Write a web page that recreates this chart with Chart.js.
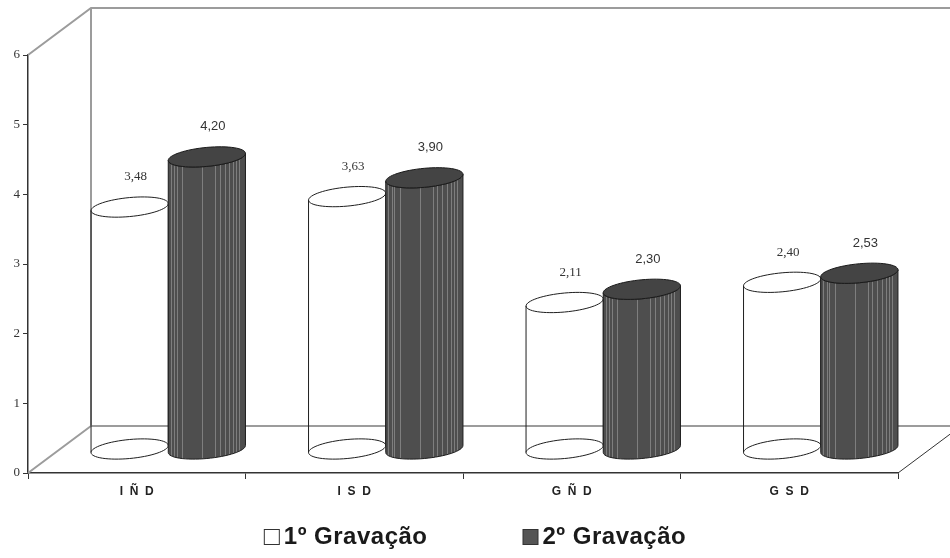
<!DOCTYPE html>
<html>
<head>
<meta charset="utf-8">
<script src="https://cdn.jsdelivr.net/npm/chart.js@4/dist/chart.umd.min.js"></script>
<style>
    html, body { margin: 0; padding: 0; background: #ffffff; }
    canvas { display: block; }
</style>
</head>
<body>
<canvas id="grafico" width="950" height="558"></canvas>
<script>
// Dados do grafico
var categorias = ['I  Ñ  D', 'I  S  D', 'G  Ñ  D', 'G  S  D'];
var gravacao1 = [3.48, 3.63, 2.11, 2.40];
var gravacao2 = [4.20, 3.90, 2.30, 2.53];
var nomesSeries = ['1º Gravação', '2º Gravação'];
var yMin = 0;
var yMax = 6;
var yPasso = 1;

// "profundidade" do efeito 3D
var DX = 63;
var DY = 47;
// posicao das listras claras no cilindro escuro (fração da largura)
var listras = [0.03, 0.08, 0.11, 0.18, 0.44, 0.61, 0.67, 0.73, 0.79, 0.84, 0.88, 0.92];

function ponto(cx, cy, rx, t) {
    var ry = 9.5, sh = 3.5;
    return [cx + rx * Math.cos(t), cy + ry * Math.sin(t) - sh * Math.cos(t)];
}

function elipse(ctx, cx, cy, rx) {
    ctx.beginPath();
    for (var k = 0; k <= 64; k++) {
        var p = ponto(cx, cy, rx, k / 64 * Math.PI * 2);
        if (k == 0) ctx.moveTo(p[0], p[1]);
        else ctx.lineTo(p[0], p[1]);
    }
    ctx.closePath();
}

function corpo(ctx, cx, yTop, yBot, rx) {
    var k, p;
    ctx.beginPath();
    p = ponto(cx, yTop, rx, Math.PI);
    ctx.moveTo(p[0], p[1]);
    for (k = 32; k >= 0; k--) {
        p = ponto(cx, yBot, rx, k / 32 * Math.PI);
        ctx.lineTo(p[0], p[1]);
    }
    for (k = 0; k <= 32; k++) {
        p = ponto(cx, yTop, rx, k / 32 * Math.PI);
        ctx.lineTo(p[0], p[1]);
    }
    ctx.closePath();
}

function formata(v) {
    return v.toFixed(2).replace('.', ',');
}

function desenhaCilindro(ctx, bar, escuro) {
    var rx = bar.width / 2;
    var cx = bar.x + DX / 2;
    var yTop = bar.y - DY / 2;
    var yBot = bar.base - DY / 2;
    var a, b;

    ctx.save();
    ctx.lineWidth = 1;
    if (!escuro) {
        ctx.strokeStyle = '#1e1e1e';
        elipse(ctx, cx, yBot, rx);
        ctx.stroke();
        elipse(ctx, cx, yTop, rx);
        ctx.stroke();
        a = ponto(cx, yTop, rx, Math.PI);
        b = ponto(cx, yBot, rx, Math.PI);
        ctx.beginPath();
        ctx.moveTo(a[0], a[1]);
        ctx.lineTo(b[0], b[1]);
        a = ponto(cx, yTop, rx, 0);
        b = ponto(cx, yBot, rx, 0);
        ctx.moveTo(a[0], a[1]);
        ctx.lineTo(b[0], b[1]);
        ctx.stroke();
        ctx.restore();
        return;
    }

    // corpo do cilindro
    corpo(ctx, cx, yTop, yBot, rx);
    ctx.fillStyle = '#4e4e4e';
    ctx.fill();

    ctx.save();
    ctx.clip();
    ctx.strokeStyle = '#7e7e7e';
    ctx.beginPath();
    listras.forEach(function (f) {
        var x = Math.round(cx - rx + f * rx * 2) + 0.5;
        ctx.moveTo(x, yTop - 20);
        ctx.lineTo(x, yBot + 20);
    });
    ctx.stroke();
    ctx.restore();

    corpo(ctx, cx, yTop, yBot, rx);
    ctx.strokeStyle = '#1e1e1e';
    ctx.stroke();

    // tampa
    elipse(ctx, cx, yTop, rx);
    ctx.fillStyle = '#444444';
    ctx.fill();
    ctx.strokeStyle = '#1a1a1a';
    ctx.stroke();
    ctx.restore();
}

var cilindros = {
    id: 'cilindros',
    beforeDatasetsDraw: function (chart) {
        var ctx = chart.ctx;
        var area = chart.chartArea;
        ctx.save();
        ctx.strokeStyle = '#9c9c9c';
        ctx.lineWidth = 2;
        ctx.beginPath();
        // parede do fundo
        ctx.moveTo(area.left, area.top);
        ctx.lineTo(area.left + DX, area.top - DY);
        ctx.lineTo(area.right + DX, area.top - DY);
        ctx.moveTo(area.left + DX, area.top - DY);
        ctx.lineTo(area.left + DX, area.bottom - DY);
        ctx.lineTo(area.right + DX, area.bottom - DY);
        // chao
        ctx.moveTo(area.left, area.bottom);
        ctx.lineTo(area.left + DX, area.bottom - DY);
        ctx.stroke();
        ctx.strokeStyle = '#333333';
        ctx.lineWidth = 1;
        ctx.beginPath();
        ctx.moveTo(area.right, area.bottom);
        ctx.lineTo(area.right + DX, area.bottom - DY);
        ctx.stroke();
        ctx.restore();
    },
    afterDatasetsDraw: function (chart) {
        var ctx = chart.ctx;
        var m1 = chart.getDatasetMeta(0);
        var m2 = chart.getDatasetMeta(1);
        for (var i = 0; i < categorias.length; i++) {
            desenhaCilindro(ctx, m1.data[i], false);
            desenhaCilindro(ctx, m2.data[i], true);
        }
        // valores
        ctx.save();
        ctx.textAlign = 'center';
        ctx.textBaseline = 'middle';
        ctx.fillStyle = '#333333';
        [m1, m2].forEach(function (meta, d) {
            ctx.font = d == 0 ? '13px "Liberation Serif"' : '13px "Liberation Sans"';
            var valores = chart.data.datasets[d].data;
            meta.data.forEach(function (bar, i) {
                ctx.fillText(formata(valores[i]), bar.x + DX / 2 + 6, bar.y - DY / 2 - 30);
            });
        });
        ctx.restore();
    },
    afterDraw: function (chart) {
        // legenda
        var ctx = chart.ctx;
        ctx.save();
        ctx.font = 'bold 24px "Liberation Sans"';
        ctx.letterSpacing = '0.5px';
        ctx.textBaseline = 'middle';
        ctx.textAlign = 'left';
        var caixa = 15, espaco = 5, entre = 95;
        var larguras = chart.data.datasets.map(function (ds) {
            return caixa + espaco + ctx.measureText(ds.label).width;
        });
        var total = larguras[0] + entre + larguras[1];
        var x = chart.width / 2 - total / 2;
        var y = 537;
        chart.data.datasets.forEach(function (ds, d) {
            ctx.fillStyle = ds.legendColor;
            ctx.fillRect(x + 0.5, y - 8 + 0.5, caixa, caixa);
            ctx.strokeStyle = '#333333';
            ctx.lineWidth = 1;
            ctx.strokeRect(x + 0.5, y - 8 + 0.5, caixa, caixa);
            ctx.fillStyle = '#1a1a1a';
            ctx.fillText(ds.label, x + caixa + espaco, y);
            x += larguras[d] + entre;
        });
        ctx.restore();
    }
};

var grafico = new Chart(
    document.getElementById('grafico'),
    {
        type: 'bar',
        data: {
            labels: categorias,
            datasets: [
                {
                    label: nomesSeries[0],
                    data: gravacao1,
                    backgroundColor: 'rgba(0,0,0,0)',
                    borderWidth: 0,
                    legendColor: '#ffffff',
                    categoryPercentage: 0.71,
                    barPercentage: 1.0
                },
                {
                    label: nomesSeries[1],
                    data: gravacao2,
                    backgroundColor: 'rgba(0,0,0,0)',
                    borderWidth: 0,
                    legendColor: '#555555',
                    categoryPercentage: 0.71,
                    barPercentage: 1.0
                }]
        },
        options: {
            responsive: false,
            animation: false,
            devicePixelRatio: 1,
            layout: {
                padding: { top: 55, right: 52, bottom: 45, left: 0 }
            },
            plugins: {
                legend: { display: false },
                tooltip: { enabled: false }
            },
            scales: {
                x: {
                    offset: true,
                    grid: {
                        offset: true,
                        drawOnChartArea: false,
                        tickLength: 6,
                        color: '#333333'
                    },
                    border: { color: '#333333', width: 1.5 },
                    ticks: {
                        color: '#222222',
                        padding: 5,
                        maxRotation: 0,
                        font: { family: 'Liberation Sans', size: 12, weight: 'bold' }
                    },
                    afterFit: function (scale) { scale.height = 40; }
                },
                y: {
                    min: yMin,
                    max: yMax,
                    ticks: {
                        stepSize: yPasso,
                        color: '#333333',
                        padding: 3,
                        font: { family: 'Liberation Serif', size: 13 }
                    },
                    grid: {
                        drawOnChartArea: false,
                        tickLength: 5,
                        color: '#333333'
                    },
                    border: { color: '#333333', width: 1.5 },
                    afterFit: function (scale) { scale.width = 28; }
                }
            }
        },
        plugins: [cilindros]
    }
);
</script>
</body>
</html>
